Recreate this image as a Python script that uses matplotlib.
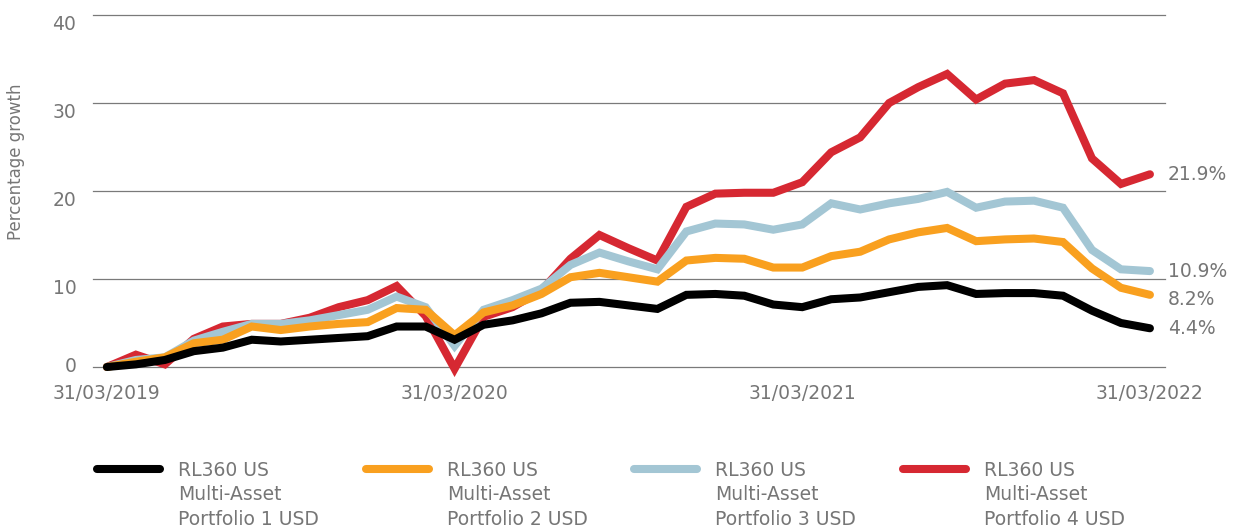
import matplotlib
matplotlib.use("Agg")
import numpy as np
from matplotlib import pyplot as plt
from matplotlib.lines import Line2D

plt.rcParams['font.family'] = ['DejaVu Sans']

# monthly index from 31/03/2019 to 31/03/2022
months = np.arange(37)
tick_pos = [0, 12, 24, 36]
tick_labels = ['31/03/2019', '31/03/2020', '31/03/2021', '31/03/2022']

p1 = [0, 0.3, 0.8, 1.8, 2.2, 3.1, 2.9, 3.1, 3.3, 3.5, 4.6, 4.6, 3.1, 4.8, 5.3, 6.1,
      7.3, 7.4, 7.0, 6.6, 8.2, 8.3, 8.1, 7.1, 6.8, 7.7, 7.9, 8.5, 9.1, 9.3, 8.3, 8.4,
      8.4, 8.1, 6.4, 5.0, 4.4]
p2 = [0, 0.6, 1.1, 2.7, 3.1, 4.6, 4.2, 4.6, 4.9, 5.1, 6.7, 6.5, 3.6, 6.2, 7.0, 8.3,
      10.2, 10.7, 10.2, 9.7, 12.1, 12.4, 12.3, 11.3, 11.3, 12.6, 13.1, 14.5, 15.3, 15.8,
      14.3, 14.5, 14.6, 14.2, 11.2, 9.0, 8.2]
p3 = [0, 0.8, 1.1, 3.0, 4.0, 4.9, 4.9, 5.3, 5.9, 6.5, 8.0, 6.8, 2.4, 6.5, 7.6, 8.9,
      11.6, 13.0, 12.0, 11.1, 15.4, 16.3, 16.2, 15.6, 16.2, 18.6, 17.9, 18.6, 19.1, 19.9,
      18.1, 18.8, 18.9, 18.1, 13.3, 11.1, 10.9]
p4 = [0, 1.4, 0.3, 3.2, 4.6, 4.9, 4.9, 5.6, 6.8, 7.6, 9.2, 5.8, -0.2, 5.7, 6.8, 8.7,
      12.3, 15.0, 13.5, 12.1, 18.2, 19.7, 19.8, 19.8, 21.0, 24.4, 26.1, 30.0, 31.8, 33.3,
      30.4, 32.2, 32.6, 31.1, 23.7, 20.8, 21.9]

names = ['RL360 US\nMulti-Asset\nPortfolio 1 USD',
         'RL360 US\nMulti-Asset\nPortfolio 2 USD',
         'RL360 US\nMulti-Asset\nPortfolio 3 USD',
         'RL360 US\nMulti-Asset\nPortfolio 4 USD']
end_labels = ['4.4%', '8.2%', '10.9%', '21.9%']
label_dy = [0, -3, 0, 0]   # small nudges in points

COLORS = ['#000000', '#f9a01f', '#a3c6d4', '#d62832']
TEXT = '#767676'
GRID = '#7a7a7a'

W, H = 1239, 529
fig = plt.figure(figsize=(W / 100, H / 100), dpi=100, facecolor='white')
ax = fig.add_axes([93 / W, 1 - 367 / H, (1165 - 93) / W, (367 - 15) / H])

series = [p1, p2, p3, p4]
# draw red first, black last
for k in [3, 2, 1, 0]:
    ax.plot(months, series[k], color=COLORS[k], lw=5.8, solid_capstyle='round',
            solid_joinstyle='miter', clip_on=False, zorder=3 + (3 - k))

for k in range(4):
    ax.annotate(end_labels[k], xy=(months[-1], series[k][-1]),
                xytext=(13, label_dy[k]), textcoords='offset points',
                ha='left', va='center', fontsize=13.5, color=TEXT)

ax.set_xlim(-0.48, 36.52)
ax.set_ylim(0, 40)
ax.set_yticks([0, 10, 20, 30, 40])
ax.set_xticks(tick_pos)
ax.set_xticklabels(tick_labels)
ax.yaxis.grid(True, color=GRID, lw=0.9)
for gl in ax.get_ygridlines():
    gl.set_clip_on(False)
ax.set_axisbelow(True)
for s in ax.spines.values():
    s.set_visible(False)
ax.tick_params(axis='both', length=0, labelsize=13.5, labelcolor=TEXT)
ax.tick_params(axis='y', pad=12)
ax.tick_params(axis='x', pad=12)
# y labels hang just under their gridline, except the zero
for lab in ax.get_yticklabels():
    lab.set_verticalalignment('top')
ax.get_yticklabels()[0].set_verticalalignment('center')

ax.set_ylabel('Percentage growth', fontsize=12, color=TEXT)
ax.yaxis.set_label_coords(-0.0635, 0.582)

# legend drawn by hand so the swatch sits on the first text line
for i in range(4):
    x0 = 97 + 268.7 * i
    fig.add_artist(Line2D([x0 / W, (x0 + 63) / W], [1 - 469 / H, 1 - 469 / H],
                          color=COLORS[i], lw=5.8, solid_capstyle='round'))
    fig.text((x0 + 81) / W, 1 - 461 / H, names[i], ha='left', va='top',
             fontsize=13.5, color=TEXT, linespacing=1.36)

fig.savefig('out.png', dpi=100, facecolor='white')
